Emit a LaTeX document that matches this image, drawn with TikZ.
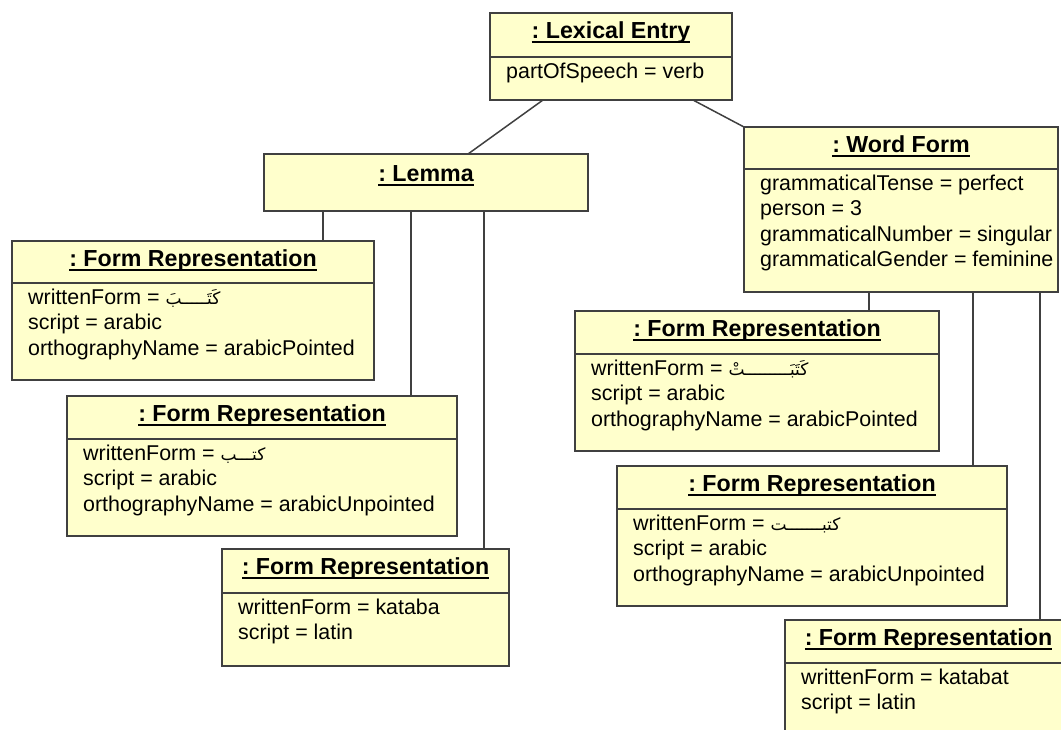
\documentclass[tikz,border=0pt]{standalone}
\usepackage{fontspec}
\setmainfont{Liberation Sans}
\newfontfamily\arabicfont[Script=Arabic]{DejaVu Sans}
\TeXXeTstate=1
\frenchspacing
\usetikzlibrary{calc}
\definecolor{umlfill}{HTML}{FFFFCC}
\definecolor{umledge}{HTML}{404040}

\tikzset{
  objbox/.style={draw=umledge, line width=1.8pt, fill=umlfill, rectangle,
    inner sep=0pt, outer sep=0pt, anchor=north west},
  divider/.style={draw=umledge, line width=1.5pt},
  link/.style={draw=umledge, line width=1.5pt},
  titletext/.style={font=\fontsize{23.2}{26}\selectfont\bfseries, inner sep=0pt, anchor=base},
  attrtext/.style={font=\fontsize{21.4}{25.5}\selectfont, inner sep=0pt,
    anchor=north west, align=left},
}

% underlined object name
\newcommand\titleline[1]{\setbox0=\hbox{#1}\rlap{\rule[-5pt]{\wd0}{2pt}}\box0}
% right-to-left Arabic value
\newcommand\artext[1]{{\fontsize{17}{17}\selectfont\arabicfont\beginR #1\endR}}

% \umlobj{name}{left}{top}{right}{bottom}{title height}{title}{attributes}
\newcommand\umlobj[8]{%
  \node[objbox, minimum width={#4pt-#2pt}, minimum height={#5pt-#3pt}] (#1) at (#2,#3) {};
  \draw[divider] ([yshift=-#6pt]#1.north west) -- ([yshift=-#6pt]#1.north east);
  \node[titletext] (#1-title) at ([yshift=-25pt]#1.north) {\titleline{#7}};
  \node[attrtext] (#1-attr) at ([xshift=16pt,yshift=-#6pt-3pt]#1.north west) {#8};
}

\begin{document}
\begin{tikzpicture}[x=1pt,y=-1pt]
\path[use as bounding box] (0,0) rectangle (1061,729);
\clip (0,0) rectangle (1061,729);

% lexical entry
\umlobj{lex}{490}{13}{732}{100}{44}{: Lexical Entry}{\strut partOfSpeech = verb}

% lemma
\node[objbox, minimum width=324pt, minimum height=57pt] (lemma) at (264,154) {};
\node[titletext] (lemma-title) at ([yshift=-27pt]lemma.north) {\titleline{: Lemma}};

% word form
\umlobj{wf}{744}{127}{1058}{292}{42}{: Word Form}{%
  \strut grammaticalTense = perfect\\
  \strut person = 3\\
  \strut grammaticalNumber = singular\\
  \strut grammaticalGender = feminine}

% form representations of the lemma
\umlobj{fr1}{12}{241}{374}{380}{42}{: Form Representation}{%
  \strut writtenForm = \artext{كَتَـــــبَ}\\
  \strut script = arabic\\
  \strut orthographyName = arabicPointed}
\umlobj{fr2}{67}{396}{457}{536}{43}{: Form Representation}{%
  \strut writtenForm = \artext{كتـــب}\\
  \strut script = arabic\\
  \strut orthographyName = arabicUnpointed}
\umlobj{fr3}{222}{549}{509}{666}{44}{: Form Representation}{%
  \strut writtenForm = kataba\\
  \strut script = latin}

% form representations of the word form
\umlobj{fr4}{575}{311}{939}{451}{43}{: Form Representation}{%
  \strut writtenForm = \artext{كَتَبَـــــــــتْ}\\
  \strut script = arabic\\
  \strut orthographyName = arabicPointed}
\umlobj{fr5}{617}{466}{1007}{606}{43}{: Form Representation}{%
  \strut writtenForm = \artext{كتبـــــــت}\\
  \strut script = arabic\\
  \strut orthographyName = arabicUnpointed}
\umlobj{fr6}{785}{620}{1072}{740}{43}{: Form Representation}{%
  \strut writtenForm = katabat\\
  \strut script = latin}

% links
\draw[link] ([xshift=-68pt]lex.south) -- ([xshift=42pt]lemma.north);
\draw[link] ([xshift=82pt]lex.south) -- (wf.north west);

\coordinate (lm1) at ([xshift=-103pt]lemma.south);
\coordinate (lm2) at ([xshift=-15pt]lemma.south);
\coordinate (lm3) at ([xshift=58pt]lemma.south);
\draw[link] (lm1) -- (lm1 |- fr1.north);
\draw[link] (lm2) -- (lm2 |- fr2.north);
\draw[link] (lm3) -- (lm3 |- fr3.north);

\coordinate (wf1) at ([xshift=-32pt]wf.south);
\coordinate (wf2) at ([xshift=72pt]wf.south);
\coordinate (wf3) at ([xshift=139pt]wf.south);
\draw[link] (wf1) -- (wf1 |- fr4.north);
\draw[link] (wf2) -- (wf2 |- fr5.north);
\draw[link] (wf3) -- (wf3 |- fr6.north);
\end{tikzpicture}
\end{document}
